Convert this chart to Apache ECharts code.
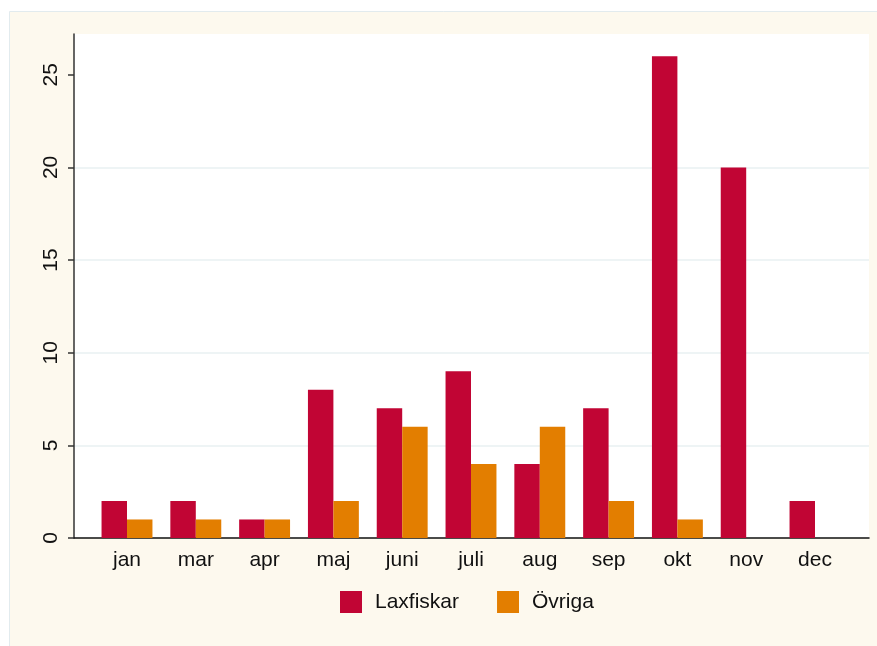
<!DOCTYPE html>
<html>
<head>
<meta charset="utf-8">
<script src="https://cdn.jsdelivr.net/npm/echarts@6/dist/echarts.min.js"></script>
<style>
  html, body { margin: 0; padding: 0; background: #ffffff; }
  #chart { width: 877px; height: 646px; }
</style>
</head>
<body>
<div id="chart"></div>
<script>
// Monthly counts per group
const months = ['jan', 'mar', 'apr', 'maj', 'juni', 'juli', 'aug', 'sep', 'okt', 'nov', 'dec'];
const laxfiskar = [2, 2, 1, 8, 7, 9, 4, 7, 26, 20, 2];
const ovriga = [1, 1, 1, 2, 6, 4, 6, 2, 1, 0, 0];
const yTicks = [0, 5, 10, 15, 20, 25];
const yMax = 27.2;

const FONT = '"Liberation Sans", Arial, sans-serif';
const RED = '#c10534';
const ORANGE = '#e37e00';

const chart = echarts.init(document.getElementById('chart'), null, { renderer: 'canvas' });

chart.setOption({
  backgroundColor: '#ffffff',
  animation: false,
  textStyle: { fontFamily: FONT },
  graphic: [{
    type: 'rect',
    z: -10,
    silent: true,
    shape: { x: 9.5, y: 11.5, width: 880, height: 650 },
    style: { fill: '#fdf9ee', stroke: '#e2ebee', lineWidth: 1 }
  }],
  legend: {
    left: 335,
    top: 586,
    itemWidth: 22,
    itemHeight: 22,
    itemGap: 38,
    icon: 'rect',
    textStyle: { fontFamily: FONT, fontSize: 21, color: '#111', padding: [0, 0, 0, 8] },
    data: ['Laxfiskar', 'Övriga']
  },
  grid: [
    // plot frame with axis lines, gridlines and y labels
    { left: 74, right: 8, top: 34, bottom: 108, show: true, backgroundColor: '#ffffff', borderWidth: 0 },
    // inner region holding the bars
    { left: 92.6, right: 27.6, top: 34, bottom: 108 }
  ],
  xAxis: [
    {
      gridIndex: 0, type: 'value', min: 0, max: 1,
      axisLine: { show: true, onZero: false, lineStyle: { color: '#111', width: 1.5 } },
      axisTick: { show: false }, axisLabel: { show: false }, splitLine: { show: false }
    },
    {
      gridIndex: 1, type: 'category', data: months,
      axisLine: { show: false }, axisTick: { show: false },
      axisLabel: { fontFamily: FONT, fontSize: 21, color: '#111', margin: 12 }
    }
  ],
  yAxis: [
    {
      gridIndex: 0, type: 'value', min: 0, max: yMax, interval: 5,
      axisLine: { show: true, lineStyle: { color: '#333', width: 1.5 } },
      axisTick: { show: true, length: 6, customValues: yTicks, lineStyle: { color: '#333', width: 1.5 } },
      axisLabel: {
        customValues: yTicks, rotate: 90, margin: 12, showMaxLabel: true,
        fontFamily: FONT, fontSize: 21, color: '#111'
      },
      splitLine: { show: true, showMinLine: false, showMaxLine: false, lineStyle: { color: '#e9f0f2', width: 1.5 } }
    },
    {
      gridIndex: 1, type: 'value', min: 0, max: yMax, show: false,
      splitLine: { show: false }
    }
  ],
  series: [
    {
      name: 'Laxfiskar', type: 'bar', xAxisIndex: 1, yAxisIndex: 1,
      data: laxfiskar, itemStyle: { color: RED },
      barGap: '0%', barCategoryGap: '26%'
    },
    {
      name: 'Övriga', type: 'bar', xAxisIndex: 1, yAxisIndex: 1,
      data: ovriga, itemStyle: { color: ORANGE },
      barGap: '0%', barCategoryGap: '26%'
    }
  ]
});
</script>
</body>
</html>
